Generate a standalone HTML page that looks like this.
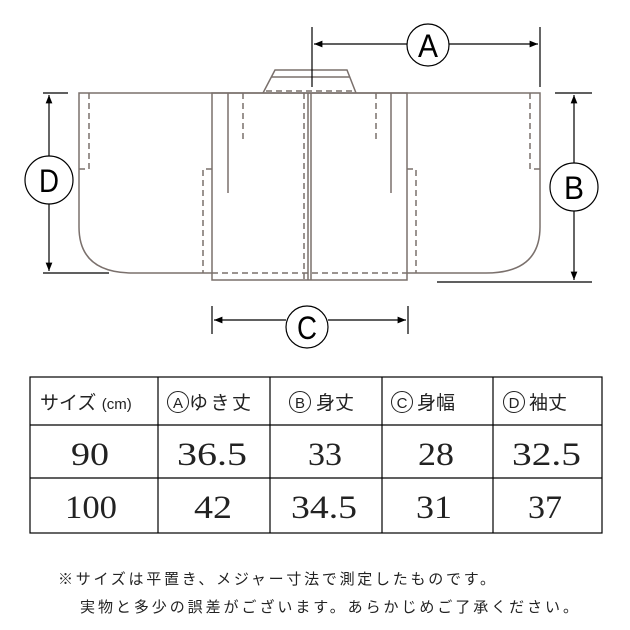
<!DOCTYPE html>
<html><head><meta charset="utf-8"><style>
html,body{margin:0;padding:0;background:#fff;}
svg{display:block;}
</style></head><body>
<svg width="630" height="630" viewBox="0 0 630 630" xmlns="http://www.w3.org/2000/svg">
<defs>
<marker id="ar" viewBox="0 0 10 10" refX="10" refY="5" markerWidth="7" markerHeight="7" orient="auto-start-reverse"><path d="M0,1 L10,5 L0,9 z" fill="#000"/></marker>
</defs>
<g fill="none" stroke="#7a706c" stroke-width="1.5">
<path d="M263,93 L275,70 L347,70 L356,93"/>
<line x1="271" y1="77" x2="350" y2="77"/>
<path d="M212,93 L79,93 L79,227 Q79,273 133,273 L212,273"/>
<path d="M407,93 L540,93 L540,227 Q540,273 486,273 L407,273"/>
<line x1="212" y1="93" x2="407" y2="93"/>
<rect x="212" y="93" width="195" height="187"/>
<line x1="308" y1="93" x2="308" y2="280"/>
<line x1="311" y1="93" x2="311" y2="280"/>
<line x1="228" y1="93" x2="228" y2="193"/>
<line x1="391" y1="93" x2="391" y2="193"/>
</g>
<g fill="none" stroke="#7a706c" stroke-width="1.5" stroke-dasharray="6,4">
<line x1="266" y1="91" x2="352" y2="91"/>
<path d="M89,93 L89,169 L79,169"/>
<path d="M530,93 L530,169 L540,169"/>
<path d="M212,169 L203,169 L203,273"/>
<path d="M407,169 L416,169 L416,273"/>
<line x1="212" y1="273" x2="407" y2="273"/>
<line x1="243" y1="93" x2="243" y2="143"/>
<line x1="376" y1="93" x2="376" y2="143"/>
<line x1="304" y1="93" x2="304" y2="280"/>
</g>
<g stroke="#000" stroke-width="1.2" fill="none">
<line x1="312" y1="27" x2="312" y2="87"/>
<line x1="540" y1="27" x2="540" y2="87"/>
<line x1="314" y1="44" x2="407" y2="44" marker-start="url(#ar)"/>
<line x1="449" y1="44" x2="538" y2="44" marker-end="url(#ar)"/>
<circle cx="428" cy="45" r="21" fill="#fff"/>
<line x1="43" y1="93" x2="68" y2="93"/>
<line x1="43" y1="273" x2="109" y2="273"/>
<line x1="49" y1="95" x2="49" y2="156" marker-start="url(#ar)"/>
<line x1="49" y1="204" x2="49" y2="271" marker-end="url(#ar)"/>
<circle cx="49" cy="180" r="24" fill="#fff"/>
<line x1="555" y1="93" x2="592" y2="93"/>
<line x1="437" y1="282" x2="592" y2="282"/>
<line x1="574" y1="95" x2="574" y2="163" marker-start="url(#ar)"/>
<line x1="574" y1="211" x2="574" y2="280" marker-end="url(#ar)"/>
<circle cx="574" cy="187" r="24" fill="#fff"/>
<line x1="212" y1="306" x2="212" y2="334"/>
<line x1="408" y1="306" x2="408" y2="334"/>
<line x1="214" y1="320" x2="286" y2="320" marker-start="url(#ar)"/>
<line x1="328" y1="320" x2="406" y2="320" marker-end="url(#ar)"/>
<circle cx="307" cy="327" r="21" fill="#fff"/>
</g>
<g font-family="Liberation Sans, sans-serif" font-size="32" text-anchor="middle" fill="#000">
<text x="428" y="57" textLength="20" lengthAdjust="spacingAndGlyphs">A</text>
<text x="49" y="192" textLength="20" lengthAdjust="spacingAndGlyphs">D</text>
<text x="574" y="199" textLength="20" lengthAdjust="spacingAndGlyphs">B</text>
<text x="307" y="339" textLength="20" lengthAdjust="spacingAndGlyphs">C</text>
</g>
<g stroke="#000" stroke-width="1.2" fill="none">
<rect x="30" y="377" width="572" height="156"/>
<line x1="30" y1="425" x2="602" y2="425"/>
<line x1="30" y1="478" x2="602" y2="478"/>
<line x1="158" y1="377" x2="158" y2="533"/>
<line x1="270" y1="377" x2="270" y2="533"/>
<line x1="382" y1="377" x2="382" y2="533"/>
<line x1="493" y1="377" x2="493" y2="533"/>
</g>
<g stroke="#222" stroke-width="1" fill="none">
<circle cx="178" cy="402" r="10.5"/>
<circle cx="300" cy="402" r="10.5"/>
<circle cx="402" cy="402" r="10.5"/>
<circle cx="514" cy="402" r="10.5"/>
</g>
<g font-family="Liberation Sans, sans-serif" font-size="15" fill="#222" text-anchor="middle">
<text x="178" y="408">A</text>
<text x="300" y="408">B</text>
<text x="402" y="408">C</text>
<text x="514" y="408">D</text>
</g>
<g font-family="Liberation Sans, 'Noto Sans CJK JP', sans-serif" font-size="19" fill="#222">
<text x="40" y="409">サイズ <tspan font-size="15">(cm)</tspan></text>
<text x="189" y="409" textLength="62" lengthAdjust="spacing">ゆき丈</text>
<text x="316" y="409">身丈</text>
<text x="417" y="409">身幅</text>
<text x="529" y="409">袖丈</text>
</g>
<g font-family="Liberation Serif, serif" font-size="33" fill="#222" lengthAdjust="spacingAndGlyphs">
<text x="71" y="465" textLength="38" lengthAdjust="spacingAndGlyphs">90</text>
<text x="177" y="465" textLength="70" lengthAdjust="spacingAndGlyphs">36.5</text>
<text x="308" y="465" textLength="34" lengthAdjust="spacingAndGlyphs">33</text>
<text x="418" y="465" textLength="36" lengthAdjust="spacingAndGlyphs">28</text>
<text x="512" y="465" textLength="69" lengthAdjust="spacingAndGlyphs">32.5</text>
<text x="65" y="518" textLength="52" lengthAdjust="spacingAndGlyphs">100</text>
<text x="194" y="518" textLength="38" lengthAdjust="spacingAndGlyphs">42</text>
<text x="291" y="518" textLength="66" lengthAdjust="spacingAndGlyphs">34.5</text>
<text x="416" y="518" textLength="36" lengthAdjust="spacingAndGlyphs">31</text>
<text x="528" y="518" textLength="34" lengthAdjust="spacingAndGlyphs">37</text>
</g>
<g font-family="Liberation Sans, 'Noto Sans CJK JP', sans-serif" font-size="15" fill="#222">
<text x="58" y="584" textLength="437" lengthAdjust="spacing">※サイズは平置き、メジャー寸法で測定したものです。</text>
<text x="80" y="612" textLength="498" lengthAdjust="spacing">実物と多少の誤差がございます。あらかじめご了承ください。</text>
</g>
</svg>
</body></html>
